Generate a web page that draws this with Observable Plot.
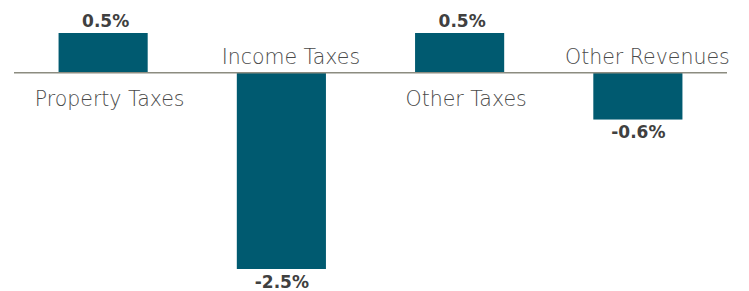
<!DOCTYPE html>
<html>
<head>
<meta charset="utf-8">
<script src="https://cdn.jsdelivr.net/npm/d3@7"></script>
<script src="https://cdn.jsdelivr.net/npm/@observablehq/plot@0.6"></script>
<style>
  html, body { margin: 0; padding: 0; background: #fff; }
</style>
</head>
<body>
<div id="chart"></div>
<script>
const categories = ["Property Taxes", "Income Taxes", "Other Taxes", "Other Revenues"];
const values = [0.5, -2.5, 0.5, -0.6];
const valueLabels = ["0.5%", "-2.5%", "0.5%", "-0.6%"];

const data = categories.map((c, i) => ({category: c, value: values[i], label: valueLabels[i]}));

const chart = Plot.plot({
  width: 749,
  height: 291,
  marginLeft: 14,
  marginRight: 22,
  marginTop: 33,
  marginBottom: 22,
  style: {background: "#fff", overflow: "visible"},
  x: {axis: null, domain: categories, paddingInner: 0.5, paddingOuter: 0.25, round: false},
  y: {axis: null, domain: [-2.5, 0.5]},
  marks: [
    Plot.barY(data, {x: "category", y: "value", fill: "#005a70"}),
    Plot.ruleY([0], {stroke: "#8c8c80", strokeWidth: 1.5}),
    // category labels: below zero for positive bars, above zero for negative bars
    Plot.text(data, {filter: d => d.value >= 0, x: "category", y: () => 0, text: "category",
      dy: 27, dx: 6, lineAnchor: "middle", fill: "#4a4a4a", fontSize: 20.5,
      fontFamily: "DejaVu Sans", fontWeight: 200}),
    Plot.text(data, {filter: d => d.value < 0, x: "category", y: () => 0, text: "category",
      dy: -15, dx: 9, lineAnchor: "middle", fill: "#4a4a4a", fontSize: 20.5,
      fontFamily: "DejaVu Sans", fontWeight: 200}),
    // value labels
    Plot.text(data, {filter: d => d.value >= 0, x: "category", y: "value", text: "label",
      dy: -12, dx: 2, lineAnchor: "middle", fill: "#404040", fontSize: 17,
      fontFamily: "DejaVu Sans", fontWeight: "bold"}),
    Plot.text(data, {filter: d => d.value < 0, x: "category", y: "value", text: "label",
      dy: 13, lineAnchor: "middle", fill: "#404040", fontSize: 17,
      fontFamily: "DejaVu Sans", fontWeight: "bold"})
  ]
});
document.getElementById("chart").appendChild(chart);
</script>
</body>
</html>
